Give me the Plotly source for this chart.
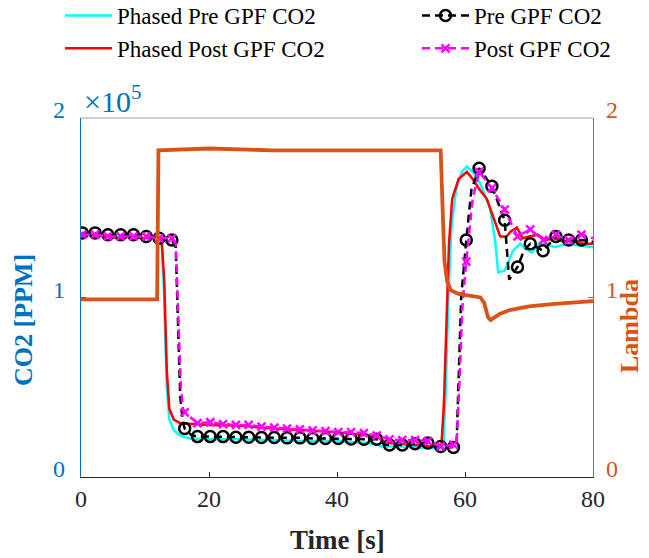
import plotly.graph_objects as go

# ---------------- data (CO2 in units of 1e5 ppm) ----------------
cyan_t = [0, 2, 4, 6, 8, 10, 12, 12.6, 13.0, 13.4, 13.8, 14.5, 15.5, 17, 20, 25, 30, 35, 40, 45, 46, 47, 50, 55,
          56.6, 57.0, 57.4, 57.9, 58.6, 59.5, 60.3, 61.2, 62.3, 63.2, 63.9, 64.7, 65.2, 66.2, 67.5, 68.6, 69.5,
          70.5, 71.5, 72.5, 74, 76, 78, 80]
cyan_v = [1.35, 1.35, 1.34, 1.34, 1.34, 1.33, 1.33, 1.31, 1.0, 0.5, 0.32, 0.26, 0.23, 0.215, 0.21, 0.21, 0.205, 0.2,
          0.2, 0.19, 0.185, 0.17, 0.17, 0.16, 0.16, 0.5, 1.0, 1.4, 1.6, 1.7, 1.73, 1.70, 1.64, 1.56, 1.50, 1.32,
          1.14, 1.15, 1.26, 1.30, 1.27, 1.25, 1.30, 1.30, 1.28, 1.30, 1.29, 1.28]

red_t = [0, 2, 4, 6, 8, 10, 12, 12.6, 13.0, 13.4, 13.8, 14.5, 15.5, 20, 25, 30, 35, 40, 45, 46.5, 47.5, 50, 55,
         56.3, 56.7, 57.1, 57.5, 58.0, 59.0, 60.3, 61.2, 62.3, 63.4, 64.4, 65.5, 66.5, 67.2, 68.1, 69, 70, 71.4,
         72.5, 74, 75.5, 77, 78.5, 80]
red_v = [1.35, 1.35, 1.34, 1.33, 1.34, 1.33, 1.34, 1.32, 1.1, 0.6, 0.38, 0.32, 0.30, 0.29, 0.285, 0.27, 0.26, 0.25,
         0.23, 0.22, 0.19, 0.185, 0.17, 0.17, 0.4, 0.9, 1.3, 1.55, 1.66, 1.70, 1.66, 1.60, 1.55, 1.45, 1.34, 1.34,
         1.37, 1.39, 1.33, 1.34, 1.35, 1.32, 1.33, 1.31, 1.32, 1.30, 1.30]

# Pre GPF: sampled points with circle markers, plus extra line points
pre_mt = [0.2, 2.2, 4.2, 6.2, 8.2, 10.2, 12.2, 14.2, 16.2, 18.2, 20.2, 22.2, 24.2, 26.2, 28.2, 30.2, 32.2, 34.2,
          36.2, 38.2, 40.2, 42.2, 44.2, 46.2, 48.2, 50.2, 52.2, 54.2, 56.2, 58.2, 60.2, 62.2, 64.2, 66.2, 68.2,
          70.2, 72.2, 74.2, 76.2, 78.2]
pre_mv = [1.36, 1.36, 1.35, 1.35, 1.35, 1.34, 1.33, 1.32, 0.27, 0.225, 0.225, 0.225, 0.222, 0.222, 0.22, 0.22,
          0.218, 0.218, 0.215, 0.215, 0.215, 0.212, 0.21, 0.21, 0.178, 0.178, 0.185, 0.19, 0.17, 0.165, 1.32,
          1.72, 1.62, 1.43, 1.17, 1.30, 1.26, 1.34, 1.32, 1.32]
pre_xt = [14.8, 15.1, 15.5, 15.9, 17.2, 46.8, 47.4, 58.7, 59.0, 59.4, 61.0, 66.9, 69.2, 80]
pre_xv = [1.28, 0.9, 0.45, 0.31, 0.235, 0.2, 0.18, 0.2, 0.5, 1.0, 1.6, 1.10, 1.26, 1.31]

# Post GPF: sampled points with x markers, plus extra line points
post_mt = pre_mt
post_mv = [1.35, 1.35, 1.34, 1.34, 1.34, 1.34, 1.33, 1.33, 0.36, 0.30, 0.305, 0.295, 0.29, 0.29, 0.28, 0.275,
           0.27, 0.265, 0.26, 0.255, 0.25, 0.25, 0.245, 0.23, 0.21, 0.205, 0.205, 0.2, 0.17, 0.18, 1.20, 1.70,
           1.61, 1.49, 1.34, 1.38, 1.32, 1.35, 1.32, 1.35]
post_xt = [14.8, 15.2, 15.6, 15.95, 58.7, 59.1, 59.6, 61.2, 80]
post_xv = [1.30, 0.9, 0.5, 0.38, 0.2, 0.5, 0.95, 1.55, 1.33]

lam_t = [0, 11.9, 12.1, 20, 30, 40, 50, 56.2, 56.5, 56.8, 57.2, 57.8, 59, 61, 62.4, 63.0, 63.6, 64.0, 64.6, 65.5,
         67, 70, 74, 80]
lam_v = [0.99, 0.99, 1.82, 1.83, 1.82, 1.82, 1.82, 1.82, 1.5, 1.2, 1.09, 1.04, 1.02, 1.01, 1.0, 0.97, 0.89, 0.875,
         0.89, 0.91, 0.93, 0.95, 0.965, 0.98]

x_ticks = [0, 20, 40, 60, 80]
y_ticks = [0, 1, 2]
y_ticklabels = ["0", "1", "2"]

BLUE = "#0072BD"
ORANGE = "#D95319"
DARK = "#262626"
FONT = "Liberation Serif, Times New Roman, serif"


def merged(mt, mv, xt, xv):
    pts = sorted(zip(list(mt) + list(xt), list(mv) + list(xv)))
    return [p[0] for p in pts], [p[1] for p in pts]


pre_lt, pre_lv = merged(pre_mt, pre_mv, pre_xt, pre_xv)
post_lt, post_lv = merged(post_mt, post_mv, post_xt, post_xv)

DASH = "8px,5px"

fig = go.Figure()
fig.add_trace(go.Scatter(x=lam_t, y=lam_v, yaxis="y2", mode="lines",
                         line=dict(color=ORANGE, width=3.8), showlegend=False))
fig.add_trace(go.Scatter(x=cyan_t, y=cyan_v, mode="lines", name="Phased Pre GPF CO2",
                         line=dict(color="#00FFFF", width=2.5), legend="legend", legendrank=1))
fig.add_trace(go.Scatter(x=red_t, y=red_v, mode="lines", name="Phased Post GPF CO2",
                         line=dict(color="#FF0000", width=2.5), legend="legend", legendrank=2))
fig.add_trace(go.Scatter(x=pre_lt, y=pre_lv, mode="lines", showlegend=False,
                         line=dict(color="black", width=2.5, dash=DASH)))
fig.add_trace(go.Scatter(x=pre_mt, y=pre_mv, mode="markers", showlegend=False,
                         marker=dict(symbol="circle-open", size=11, color="black", line=dict(width=2.5))))
fig.add_trace(go.Scatter(x=post_lt, y=post_lv, mode="lines", showlegend=False,
                         line=dict(color="#FF00FF", width=2.5, dash=DASH)))
fig.add_trace(go.Scatter(x=post_mt, y=post_mv, mode="markers", showlegend=False,
                         marker=dict(symbol="x-thin", size=8, color="#FF00FF",
                                     line=dict(width=2.5, color="#FF00FF"))))
# legend entries (combined line + marker look)
fig.add_trace(go.Scatter(x=[None], y=[None], mode="lines+markers", name="Pre GPF CO2", legend="legend2",
                         legendrank=1, line=dict(color="black", width=2.5, dash=DASH),
                         marker=dict(symbol="circle-open", size=11, color="black", line=dict(width=2.5))))
fig.add_trace(go.Scatter(x=[None], y=[None], mode="lines+markers", name="Post GPF CO2", legend="legend2",
                         legendrank=2, line=dict(color="#FF00FF", width=2.5, dash=DASH),
                         marker=dict(symbol="x-thin", size=8, color="#FF00FF",
                                     line=dict(width=2.5, color="#FF00FF"))))

# plot-area geometry in pixels (for placing titles / legends)
L, R, T, B = 81, 593, 118, 477
PW, PH = R - L, B - T


def px_x(px):
    return (px - L) / PW


def px_y(py):
    return (B - py) / PH


leg_common = dict(orientation="v", xref="paper", yref="paper", xanchor="left", yanchor="top",
                  bgcolor="rgba(0,0,0,0)", font=dict(family=FONT, size=23, color="black"),
                  itemwidth=47, tracegroupgap=0)

annotations = []
# left / right y tick labels (drawn slightly above the tick, as in the reference)
for v, lab in zip(y_ticks, y_ticklabels):
    annotations.append(dict(text=lab, xref="paper", yref="y", x=0, y=v, xanchor="right", yanchor="middle",
                            xshift=-14, yshift=8, showarrow=False,
                            font=dict(family=FONT, size=24, color=BLUE)))
    annotations.append(dict(text=lab, xref="paper", yref="y2", x=1, y=v, xanchor="left", yanchor="middle",
                            xshift=11, yshift=8, showarrow=False,
                            font=dict(family=FONT, size=24, color=ORANGE)))
# exponent label
annotations.append(dict(text="×10<sup>5</sup>", xref="paper", yref="paper", x=0, y=1.0,
                        xanchor="left", yanchor="bottom", showarrow=False, xshift=1, yshift=-2,
                        font=dict(family=FONT, size=30, color=BLUE)))
# axis titles
annotations.append(dict(text="<b>CO2 [PPM]</b>", xref="paper", yref="paper", x=px_x(23), y=px_y(320),
                        xanchor="center", yanchor="middle", textangle=-90, showarrow=False,
                        font=dict(family=FONT, size=26, color=BLUE)))
annotations.append(dict(text="<b>Lambda</b>", xref="paper", yref="paper", x=px_x(629), y=px_y(326),
                        xanchor="center", yanchor="middle", textangle=-90, showarrow=False,
                        font=dict(family=FONT, size=26, color=ORANGE)))
annotations.append(dict(text="<b>Time [s]</b>", xref="paper", yref="paper", x=0.5, y=px_y(540),
                        xanchor="center", yanchor="middle", showarrow=False,
                        font=dict(family=FONT, size=27, color=DARK)))

fig.update_layout(
    width=649, height=558,
    margin=dict(l=L, r=649 - R, t=T, b=558 - B, autoexpand=False),
    paper_bgcolor="white", plot_bgcolor="white",
    font=dict(family=FONT),
    legend=dict(x=px_x(60), y=px_y(-6), **leg_common),
    legend2=dict(x=px_x(417), y=px_y(-6), **leg_common),
    xaxis=dict(range=[0, 80], tickvals=x_ticks, ticks="inside", ticklen=5, tickcolor=DARK,
               showline=True, linecolor=DARK, linewidth=1, showgrid=False, zeroline=False,
               tickfont=dict(family=FONT, size=24, color=DARK), ticklabelstandoff=0,
               automargin=False),
    yaxis=dict(range=[0, 2], tickvals=y_ticks, ticks="inside", ticklen=5, tickcolor=BLUE,
               showline=True, linecolor=BLUE, linewidth=1, showgrid=False, zeroline=False,
               showticklabels=False, automargin=False),
    yaxis2=dict(range=[0, 2], tickvals=y_ticks, ticks="inside", ticklen=5, tickcolor=ORANGE,
                overlaying="y", side="right", showline=True, linecolor=ORANGE, linewidth=1,
                showgrid=False, zeroline=False, automargin=False, showticklabels=False),
    shapes=[dict(type="line", xref="paper", yref="paper", x0=0, x1=1, y0=1, y1=1,
                 line=dict(color="#9a9a9a", width=1))],
    annotations=annotations,
)

fig.write_html("out.html")
